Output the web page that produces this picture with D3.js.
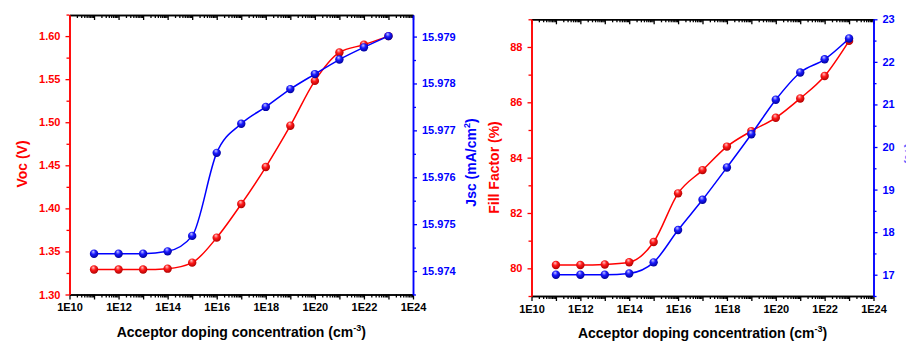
<!DOCTYPE html>
<html>
<head>
<meta charset="utf-8">
<script src="https://cdn.jsdelivr.net/npm/d3@7"></script>
<style>
  body { margin: 0; background: #fff; }
  svg text { font-family: "Liberation Sans", Arial, sans-serif; font-weight: bold; }
</style>
</head>
<body>
<div id="chart"></div>
<script>
// acceptor doping concentration (cm^-3)
const doping = [1e11, 1e12, 1e13, 1e14, 1e15, 1e16, 1e17, 1e18, 1e19, 1e20, 1e21, 1e22, 1e23];

// left panel
const voc = [1.329, 1.329, 1.329, 1.330, 1.337, 1.366, 1.405, 1.448, 1.496, 1.548, 1.581, 1.590, 1.600];
const jscLeft = [15.97437, 15.97437, 15.97437, 15.97442, 15.97475, 15.97652, 15.97714, 15.97750,
                 15.97788, 15.97820, 15.97851, 15.97877, 15.97901];

// right panel
const fillFactor = [80.12, 80.12, 80.14, 80.22, 80.95, 82.71, 83.55, 84.40, 84.96, 85.44, 86.14, 86.95, 88.22];
const jscRight = [17.00, 17.00, 17.00, 17.03, 17.29, 18.05, 18.76, 19.52, 20.30, 21.11, 21.75, 22.06, 22.55];

// tick labels
const xTickLabels = ["1E10", "1E12", "1E14", "1E16", "1E18", "1E20", "1E22", "1E24"];
const vocTicks = [1.30, 1.35, 1.40, 1.45, 1.50, 1.55, 1.60];
const jscLeftTicks = [15.974, 15.975, 15.976, 15.977, 15.978, 15.979];
const ffTicks = [80, 82, 84, 86, 88];
const jscRightTicks = [17, 18, 19, 20, 21, 22, 23];

const RED = "#ff0000", BLUE = "#0000ff";

const svg = d3.select("#chart").append("svg")
  .attr("width", 906)
  .attr("height", 345)
  .style("background", "#fff");

// shaded ball markers
const defs = svg.append("defs");
function ball(id, light, mid, dark) {
  const g = defs.append("radialGradient").attr("id", id)
    .attr("cx", "45%").attr("cy", "40%").attr("r", "60%")
    .attr("fx", "40%").attr("fy", "25%");
  g.append("stop").attr("offset", "0%").attr("stop-color", light);
  g.append("stop").attr("offset", "45%").attr("stop-color", mid);
  g.append("stop").attr("offset", "100%").attr("stop-color", dark);
}
ball("ballRed", "#ffc8c8", "#ff1a1a", "#b00000");
ball("ballBlue", "#c8c8ff", "#1a1aff", "#00009a");

const decades = d3.range(10, 25).map(k => Math.pow(10, k));
const minorX = [];
for (let k = 10; k < 24; k++) for (let m = 2; m <= 9; m++) minorX.push(m * Math.pow(10, k));

function styleAxis(g, color, fontSize) {
  g.select(".domain").attr("stroke", color).attr("stroke-width", 1.5);
  g.selectAll(".tick line").attr("stroke", color).attr("stroke-width", 1.3);
  g.selectAll(".tick text").attr("fill", color).style("font-size", fontSize + "px");
}

function drawPanel(p) {
  const x = d3.scaleLog().domain([1e10, 1e24]).range([p.left, p.right]);
  const yL = d3.scaleLinear().domain(p.leftDomain).range([p.bottom, p.top]);
  const yR = d3.scaleLinear().domain(p.rightDomain).range([p.bottom, p.top]);

  // bottom axis
  const xb = svg.append("g").attr("transform", "translate(0," + p.bottom + ")")
    .call(d3.axisBottom(x).tickValues(decades).tickSize(5).tickSizeOuter(0).tickPadding(4)
      .tickFormat(d => {
        const e = Math.round(Math.log10(d));
        return e % 2 === 0 ? xTickLabels[(e - 10) / 2] : "";
      }));
  styleAxis(xb, "#000", 11);
  const xbm = svg.append("g").attr("transform", "translate(0," + p.bottom + ")")
    .call(d3.axisBottom(x).tickValues(minorX).tickSize(3).tickSizeOuter(0).tickFormat(""));
  styleAxis(xbm, "#000", 11);

  // top axis, ticks pointing into the plot
  const xt = svg.append("g").attr("transform", "translate(0," + p.top + ")")
    .call(d3.axisBottom(x).tickValues(decades).tickSize(5).tickSizeOuter(0).tickFormat(""));
  styleAxis(xt, "#000", 11);
  const xtm = svg.append("g").attr("transform", "translate(0," + p.top + ")")
    .call(d3.axisBottom(x).tickValues(minorX).tickSize(3).tickSizeOuter(0).tickFormat(""));
  styleAxis(xtm, "#000", 11);

  // left axis
  const al = svg.append("g").attr("transform", "translate(" + p.left + ",0)")
    .call(d3.axisLeft(yL).tickValues(p.leftTicks).tickSize(4).tickSizeOuter(0).tickPadding(5)
      .tickFormat(d3.format(p.leftFmt)));
  styleAxis(al, RED, 11);
  const alm = svg.append("g").attr("transform", "translate(" + p.left + ",0)")
    .call(d3.axisLeft(yL).tickValues(p.leftMinor).tickSize(3).tickSizeOuter(0).tickFormat(""));
  styleAxis(alm, RED, 11);

  // right axis
  const ar = svg.append("g").attr("transform", "translate(" + p.right + ",0)")
    .call(d3.axisRight(yR).tickValues(p.rightTicks).tickSize(4).tickSizeOuter(0).tickPadding(5)
      .tickFormat(d3.format(p.rightFmt)));
  styleAxis(ar, BLUE, 11);
  const arm = svg.append("g").attr("transform", "translate(" + p.right + ",0)")
    .call(d3.axisRight(yR).tickValues(p.rightMinor).tickSize(3).tickSizeOuter(0).tickFormat(""));
  styleAxis(arm, BLUE, 11);

  // series: red first, blue on top
  const series = [
    {vals: p.leftVals, y: yL, color: RED, fill: "url(#ballRed)"},
    {vals: p.rightVals, y: yR, color: BLUE, fill: "url(#ballBlue)"}
  ];
  series.forEach(s => {
    const pts = doping.map((d, i) => [d, s.vals[i]]);
    svg.append("path")
      .datum(pts)
      .attr("fill", "none")
      .attr("stroke", s.color)
      .attr("stroke-width", 1.5)
      .attr("d", d3.line().curve(d3.curveMonotoneX)
        .x(d => x(d[0]))
        .y(d => s.y(d[1])));
    svg.append("g").selectAll("circle")
      .data(pts)
      .join("circle")
      .attr("cx", d => x(d[0]))
      .attr("cy", d => s.y(d[1]))
      .attr("r", 4.2)
      .attr("fill", s.fill);
  });

  // x title
  const xt2 = svg.append("text")
    .attr("x", (p.left + p.right) / 2)
    .attr("y", p.titleY)
    .attr("text-anchor", "middle")
    .style("font-size", "14px")
    .attr("fill", "#000");
  xt2.append("tspan").text("Acceptor doping concentration (cm");
  xt2.append("tspan").attr("dy", -6).style("font-size", "9px").text("-3");
  xt2.append("tspan").attr("dy", 6).text(")");
}

function yTitle(xPos, yPos, color, main, sup, tail, opacity) {
  const t = svg.append("text")
    .attr("transform", "translate(" + xPos + "," + yPos + ") rotate(-90)")
    .attr("text-anchor", "middle")
    .style("font-size", "14px")
    .attr("fill", color)
    .attr("opacity", opacity || 1);
  t.append("tspan").text(main);
  if (sup) {
    t.append("tspan").attr("dy", -6).style("font-size", "9px").text(sup);
    t.append("tspan").attr("dy", 6).text(tail);
  }
}

drawPanel({
  left: 69.5, right: 413, top: 15, bottom: 294.5, titleY: 337,
  leftDomain: [1.30, 1.6245], rightDomain: [15.9735, 15.97946],
  leftTicks: vocTicks, leftMinor: [1.325, 1.375, 1.425, 1.475, 1.525, 1.575, 1.625], leftFmt: ".2f",
  rightTicks: jscLeftTicks, rightMinor: [15.9735, 15.9745, 15.9755, 15.9765, 15.9775, 15.9785], rightFmt: ".3f",
  leftVals: voc, rightVals: jscLeft
});

drawPanel({
  left: 531.5, right: 873.5, top: 19.3, bottom: 296, titleY: 338,
  leftDomain: [79, 89], rightDomain: [16.5, 23],
  leftTicks: ffTicks, leftMinor: [79, 81, 83, 85, 87, 89], leftFmt: "d",
  rightTicks: jscRightTicks, rightMinor: [16.5, 17.5, 18.5, 19.5, 20.5, 21.5, 22.5], rightFmt: "d",
  leftVals: fillFactor, rightVals: jscRight
});

yTitle(26.5, 164, RED, "Voc (V)");
yTitle(476, 162.5, BLUE, "Jsc (mA/cm", "2", ")");
yTitle(499, 167.5, RED, "Fill Factor (%)");
yTitle(915, 160, BLUE, "\u03b7 (%)", null, null, 0.6);
</script>
</body>
</html>
